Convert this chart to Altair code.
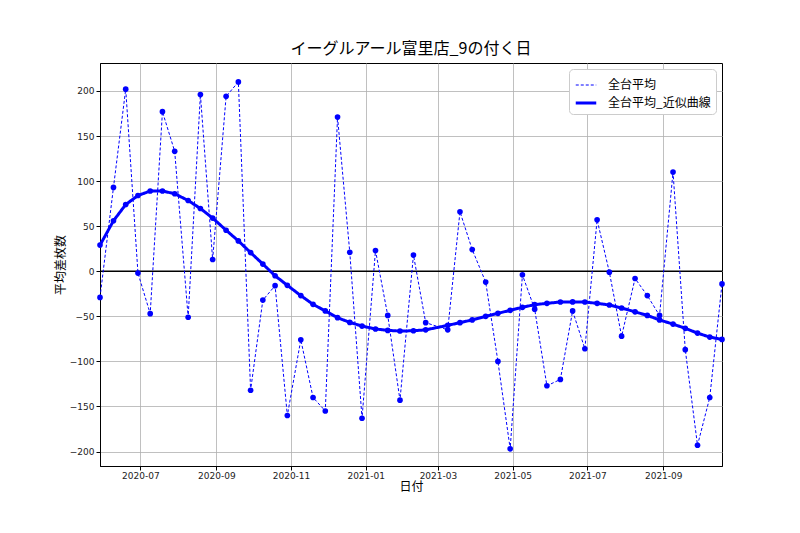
import altair as alt
import pandas as pd

# 9の付く日 (9th, 19th, 29th)
dates = [
    "2020-05-29", "2020-06-09", "2020-06-19", "2020-06-29", "2020-07-09", "2020-07-19",
    "2020-07-29", "2020-08-09", "2020-08-19", "2020-08-29", "2020-09-09", "2020-09-19",
    "2020-09-29", "2020-10-09", "2020-10-19", "2020-10-29", "2020-11-09", "2020-11-19",
    "2020-11-29", "2020-12-09", "2020-12-19", "2020-12-29", "2021-01-09", "2021-01-19",
    "2021-01-29", "2021-02-09", "2021-02-19", "2021-03-09", "2021-03-19", "2021-03-29",
    "2021-04-09", "2021-04-19", "2021-04-29", "2021-05-09", "2021-05-19", "2021-05-29",
    "2021-06-09", "2021-06-19", "2021-06-29", "2021-07-09", "2021-07-19", "2021-07-29",
    "2021-08-09", "2021-08-19", "2021-08-29", "2021-09-09", "2021-09-19", "2021-09-29",
    "2021-10-09", "2021-10-19",
]

avg_diff = [
    -29, 93, 202, -2, -47, 177, 133, -51, 196, 13, 194, 210,
    -132, -32, -16, -160, -76, -140, -155, 171, 21, -163, 23, -49,
    -143, 18, -57, -65, 66, 24, -12, -100, -197, -4, -42, -127,
    -120, -44, -86, 57, -1, -72, -8, -27, -49, 110, -87, -193,
    -140, -14,
]

avg_fit = [
    29, 56, 74, 84, 89, 89, 86, 78.5, 69.6, 59, 45.5, 33.7,
    20.7, 8, -5, -15.6, -27, -36.7, -44, -51.5, -56.7, -60.8, -64, -65.6,
    -66.3, -66, -65, -60, -57, -54, -50, -46.7, -43.3, -40, -37, -35.6,
    -34.1, -34, -34.1, -35.6, -37.4, -40.8, -45, -49, -54, -58.6, -63.3, -68.6,
    -73, -75.6,
]

series_names = ["全台平均", "全台平均_近似曲線"]
y_ticks = [-200, -150, -100, -50, 0, 50, 100, 150, 200]
x_ticks = [(2020, 7), (2020, 9), (2020, 11), (2021, 1), (2021, 3), (2021, 5), (2021, 7), (2021, 9)]

df = pd.concat([
    pd.DataFrame({"date": dates, "value": avg_diff, "series": series_names[0]}),
    pd.DataFrame({"date": dates, "value": avg_fit, "series": series_names[1]}),
])

JP = "Noto Sans CJK JP"

x_enc = alt.X(
    "date:T",
    title="日付",
    scale=alt.Scale(domain=[alt.DateTime(year=2020, month=5, date=29),
                            alt.DateTime(year=2021, month=10, date=19)], nice=False),
    axis=alt.Axis(values=[alt.DateTime(year=y, month=m, date=1) for y, m in x_ticks],
                  format="%Y-%m", labelFontSize=9, titleFontSize=12, titlePadding=1, labelPadding=1),
)
y_enc = alt.Y(
    "value:Q",
    title="平均差枚数",
    scale=alt.Scale(domain=[-216, 231], nice=False, zero=False),
    axis=alt.Axis(values=y_ticks, labelFontSize=9, titleFontSize=12, titlePadding=2),
)

legend = alt.Legend(
    title=None, orient="top-right", offset=6, fillColor="white", strokeColor="#cccccc",
    cornerRadius=4, padding=5, labelFont=JP, labelFontSize=12, labelColor="black",
    symbolType="stroke", symbolSize=420, rowPadding=0, labelOffset=10,
)

lines = alt.Chart(df).mark_line(
    point=alt.OverlayMarkDef(filled=True, size=32, color="#0000ff"), color="#0000ff"
).encode(
    x=x_enc,
    y=y_enc,
    color=alt.Color("series:N", scale=alt.Scale(domain=series_names, range=["#0000ff", "#0000ff"]),
                    legend=legend),
    strokeDash=alt.StrokeDash("series:N", scale=alt.Scale(domain=series_names, range=[[3, 2], [1, 0]]),
                              legend=legend),
    strokeWidth=alt.StrokeWidth("series:N", scale=alt.Scale(domain=series_names, range=[1, 3]),
                                legend=legend),
)

zero_line = alt.Chart(pd.DataFrame({"z": [0]})).mark_rule(color="black", strokeWidth=1.5).encode(
    y=alt.Y("z:Q")
)

chart = alt.layer(zero_line, lines).properties(
    width=622,
    height=403,
    title=alt.Title("イーグルアール富里店_9の付く日", fontSize=16, font=JP, fontWeight="normal",
                    offset=6, color="black"),
    autosize=alt.AutoSizeParams(type="none"),
    padding={"left": 92, "top": 55, "right": 70, "bottom": 60},
).configure(
    font=JP,
).configure_axis(
    grid=True, gridColor="#b0b0b0", gridWidth=0.8, domainColor="black", tickColor="black",
    tickSize=4, labelColor="#222222", titleColor="black", labelFont="DejaVu Sans",
    titleFont=JP, titleFontWeight="normal",
).configure_view(
    stroke="black", strokeWidth=1,
)

chart.save("out.html", embed_options={"renderer": "svg", "actions": False})
